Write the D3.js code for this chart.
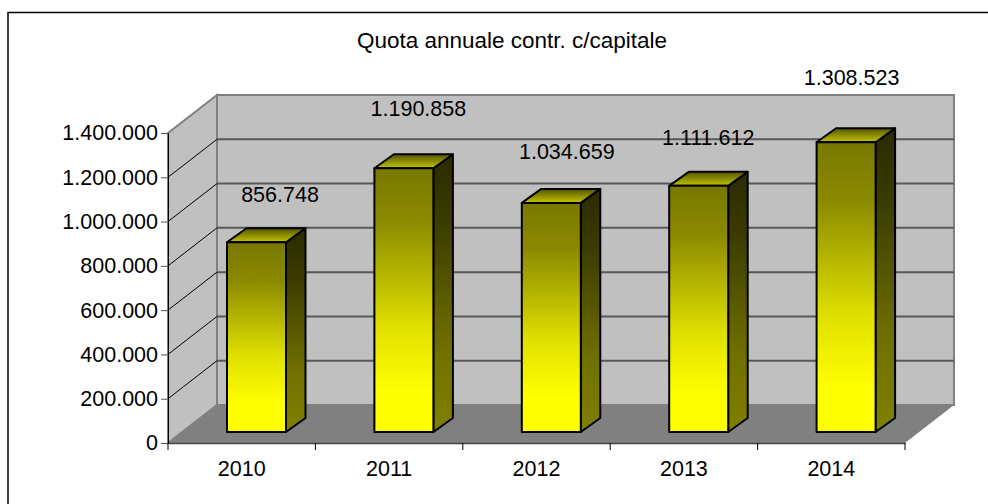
<!DOCTYPE html>
<html>
<head>
<meta charset="utf-8">
<script src="https://cdn.jsdelivr.net/npm/d3@7"></script>
<style>
html, body { margin: 0; padding: 0; background: #fff; }
svg { display: block; }
text { font-family: "Liberation Sans", Arial, sans-serif; fill: #000; }
</style>
</head>
<body>
<div id="chart"></div>
<script>
var years = ['2010', '2011', '2012', '2013', '2014'];
var values = [856748, 1190858, 1034659, 1111612, 1308523];
var valueLabels = ['856.748', '1.190.858', '1.034.659', '1.111.612', '1.308.523'];
var yTicks = [0, 200000, 400000, 600000, 800000, 1000000, 1200000, 1400000];
var yTickLabels = ['0', '200.000', '400.000', '600.000', '800.000', '1.000.000', '1.200.000', '1.400.000'];
var chartTitle = 'Quota annuale contr. c/capitale';

var width = 988, height = 504;
var left = 168, right = 905, bottom = 443, top_ = 133;
var depthX = 49, depthY = 38;
var barDepthX = 19.5, barDepthY = 14;
var barBaseGap = 11;
var fontSize = 21.5;

// the labels sit where they were dragged, not at a fixed distance from the bars
var labelShiftX = [53, 44, 45, 39, 35];
var labelLift = [40, 52, 44, 41, 57];

var svg = d3.select('#chart').append('svg')
    .attr('width', width)
    .attr('height', height);

var defs = svg.append('defs');

function gradient(id, stops) {
    var g = defs.append('linearGradient')
        .attr('id', id)
        .attr('x1', 0).attr('y1', 0)
        .attr('x2', 0).attr('y2', 1);
    stops.forEach(function (s) {
        g.append('stop').attr('offset', s[0]).attr('stop-color', s[1]);
    });
}
gradient('front', [[0, '#787800'], [0.2, '#8a8a00'], [0.6, '#e0e000'], [0.85, '#ffff00'], [1, '#ffff00']]);
gradient('side', [[0, '#2a2a00'], [0.25, '#3c3c00'], [0.7, '#707000'], [1, '#808000']]);
gradient('cap', [[0, '#555500'], [1, '#c4c400']]);

var x = d3.scaleBand().domain(years).range([left, right]);
var y = d3.scaleLinear().domain([0, 1400000]).range([bottom, top_]);

// chart frame, only top and left are inside the picture
svg.append('path')
    .attr('d', 'M8,' + height + 'V12.5H' + width)
    .attr('fill', 'none')
    .attr('stroke', '#000')
    .attr('stroke-width', 1.5);

// walls and floor
var wallGrey = '#c0c0c0', edgeGrey = '#808080';
function poly(points) { return points.map(function (p) { return p.join(','); }).join(' '); }

svg.append('polygon')
    .attr('points', poly([[left + depthX, top_ - depthY], [right + depthX, top_ - depthY], [right + depthX, bottom - depthY], [left + depthX, bottom - depthY]]))
    .attr('fill', wallGrey)
    .attr('stroke', edgeGrey)
    .attr('stroke-width', 2);
svg.append('polygon')
    .attr('points', poly([[left, top_], [left + depthX, top_ - depthY], [left + depthX, bottom - depthY], [left, bottom]]))
    .attr('fill', wallGrey)
    .attr('stroke', edgeGrey)
    .attr('stroke-width', 2);
svg.append('polygon')
    .attr('points', poly([[left, bottom], [left + depthX, bottom - depthY], [right + depthX, bottom - depthY], [right, bottom]]))
    .attr('fill', edgeGrey);

// gridlines: slanted on the side wall, flat on the back wall
var grid = svg.append('g').selectAll('g')
    .data(yTicks.slice(1))
    .enter().append('g');
grid.append('line')
    .attr('x1', left).attr('x2', left + depthX)
    .attr('y1', function (d) { return y(d); })
    .attr('y2', function (d) { return y(d) - depthY; })
    .attr('stroke', function (d) { return d === 1400000 ? edgeGrey : '#000'; });
grid.filter(function (d) { return d < 1400000; }).append('line')
    .attr('x1', left + depthX).attr('x2', right + depthX)
    .attr('y1', function (d) { return y(d) - depthY; })
    .attr('y2', function (d) { return y(d) - depthY; })
    .attr('stroke', '#585858')
    .attr('stroke-width', 2);

// axes
var yAxis = d3.axisLeft(y)
    .tickValues(yTicks)
    .tickSize(7)
    .tickPadding(3)
    .tickFormat(function (d, i) { return yTickLabels[i]; });
var yG = svg.append('g').attr('transform', 'translate(' + left + ',0)').call(yAxis);
yG.select('.domain').attr('stroke', '#000');
yG.selectAll('.tick line').attr('stroke', '#555');
yG.selectAll('text').attr('font-size', fontSize);

var xAxis = d3.axisBottom(x).tickSize(0).tickPadding(18);
var xG = svg.append('g').attr('transform', 'translate(0,' + bottom + ')').call(xAxis);
xG.select('.domain').attr('stroke', '#444').attr('stroke-width', 1.5);
xG.selectAll('text').attr('font-size', fontSize);
xG.selectAll('.sep')
    .data(years.concat(['end']))
    .enter().append('line')
    .attr('class', 'sep')
    .attr('x1', function (d, i) { return i < years.length ? x(d) : right; })
    .attr('x2', function (d, i) { return i < years.length ? x(d) : right; })
    .attr('y1', 0).attr('y2', 7)
    .attr('stroke', '#000');

// bars
var barWidth = 59;
var barBase = bottom - barBaseGap;
var bars = svg.append('g').selectAll('g')
    .data(years)
    .enter().append('g')
    .attr('stroke', '#000')
    .attr('stroke-width', 2)
    .attr('stroke-linejoin', 'round');

function barX(d) { return x(d) + 59; }
function barTop(d, i) { return barBase - (bottom - y(values[i])); }

bars.append('polygon')
    .attr('fill', 'url(#side)')
    .attr('points', function (d, i) {
        var x1 = barX(d) + barWidth, t = barTop(d, i);
        return poly([[x1, t], [x1 + barDepthX, t - barDepthY], [x1 + barDepthX, barBase - barDepthY], [x1, barBase]]);
    });
bars.append('polygon')
    .attr('fill', 'url(#cap)')
    .attr('points', function (d, i) {
        var x0 = barX(d), t = barTop(d, i);
        return poly([[x0, t], [x0 + barDepthX, t - barDepthY], [x0 + barWidth + barDepthX, t - barDepthY], [x0 + barWidth, t]]);
    });
bars.append('rect')
    .attr('fill', 'url(#front)')
    .attr('x', barX)
    .attr('y', barTop)
    .attr('width', barWidth)
    .attr('height', function (d, i) { return barBase - barTop(d, i); });

// value labels
svg.append('g').selectAll('text')
    .data(years)
    .enter().append('text')
    .attr('x', function (d, i) { return barX(d) + labelShiftX[i]; })
    .attr('y', function (d, i) { return barTop(d, i) - labelLift[i]; })
    .attr('text-anchor', 'middle')
    .attr('font-size', fontSize)
    .text(function (d, i) { return valueLabels[i]; });

svg.append('text')
    .attr('x', 512)
    .attr('y', 48)
    .attr('text-anchor', 'middle')
    .attr('font-size', 22.5)
    .text(chartTitle);
</script>
</body>
</html>
